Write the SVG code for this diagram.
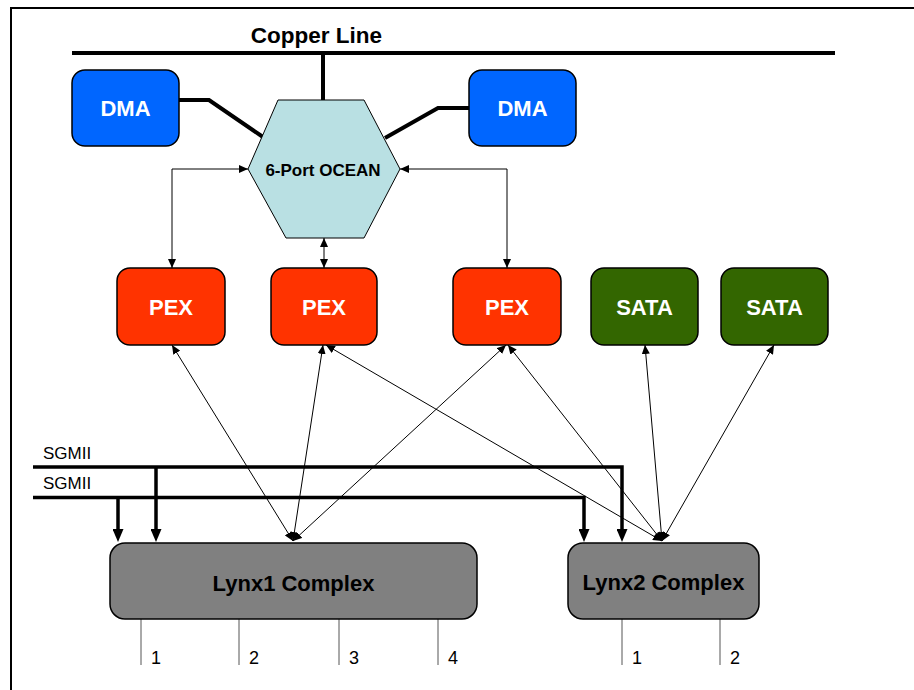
<svg xmlns="http://www.w3.org/2000/svg" width="914" height="690" viewBox="0 0 914 690">
<defs>
<style>
.box{stroke:#000;stroke-width:1.5}
.dma{fill:#0066FF}
.pex{fill:#FF3300}
.sata{fill:#336600}
.lynx{fill:#808080}
.hex{fill:#B9E0E3;stroke:#000;stroke-width:1}
.wt{font-family:"Liberation Sans",Arial,sans-serif;font-weight:bold;font-size:22px;fill:#fff;text-anchor:middle}
.bt{font-family:"Liberation Sans",Arial,sans-serif;font-weight:bold;fill:#000;text-anchor:middle}
.nt{font-family:"Liberation Sans",Arial,sans-serif;fill:#000}
.thick{fill:none;stroke:#000;stroke-width:4}
.sg{fill:none;stroke:#000;stroke-width:3.5}
.thin{fill:none;stroke:#000;stroke-width:1;marker-start:url(#ah);marker-end:url(#ah)}
.port{fill:none;stroke:#555;stroke-width:1}
</style>
<marker id="ah" markerUnits="userSpaceOnUse" markerWidth="10" markerHeight="8" viewBox="0 0 10 8" refX="9" refY="4" orient="auto-start-reverse">
<path d="M0,0 L9,4 L0,8 z" fill="#000"/>
</marker>
<marker id="bh" markerUnits="userSpaceOnUse" markerWidth="14" markerHeight="11" viewBox="0 0 14 11" refX="1" refY="5.5" orient="auto">
<path d="M0,0 L13,5.5 L0,11 z" fill="#000"/>
</marker>
</defs>
<rect width="914" height="690" fill="#fff"/>
<path d="M11,690 V8 H914" fill="none" stroke="#000" stroke-width="2"/>

<g id="copper-line">
<line x1="72" y1="53" x2="835" y2="53" stroke="#000" stroke-width="4"/>
<text class="bt" x="316.5" y="43" font-size="22.5">Copper Line</text>
</g>

<g id="connectors">
<path class="thick" d="M323,53 V100"/>
<path class="thick" d="M179,100 H209 L263,137"/>
<path class="thick" d="M469,108 H438 L385,138"/>
<path class="thin" d="M248,169 H172 V268"/>
<path class="thin" d="M400,169 H507 V268"/>
<path class="thin" d="M324,238 V268"/>
<path class="thin" d="M293,541 L172,345"/>
<path class="thin" d="M293,541 L323,345"/>
<path class="thin" d="M293,541 L506,345"/>
<path class="thin" d="M662,541 L326,345"/>
<path class="thin" d="M662,541 L508,345"/>
<path class="thin" d="M662,541 L645,345"/>
<path class="thin" d="M662,541 L774,345"/>
<path class="sg" d="M33,467 H622 V530" marker-end="url(#bh)"/>
<path class="sg" d="M156,467 V530" marker-end="url(#bh)"/>
<path class="sg" d="M33,497.5 H584 V530" marker-end="url(#bh)"/>
<path class="sg" d="M118,497.5 V530" marker-end="url(#bh)"/>
<path class="port" d="M141,619 V665 M239,619 V665 M339,619 V665 M438,619 V665 M622,619 V665 M720,619 V665"/>
</g>

<g id="sgmii-labels">
<text class="nt" x="43" y="459" font-size="17">SGMII</text>
<text class="nt" x="43" y="489" font-size="17">SGMII</text>
</g>

<g id="dma1">
<rect class="box dma" x="72" y="70" width="107" height="76" rx="13"/>
<text class="wt" x="125.5" y="116">DMA</text>
</g>
<g id="dma2">
<rect class="box dma" x="469" y="70" width="107" height="76" rx="13"/>
<text class="wt" x="522.5" y="116">DMA</text>
</g>

<g id="ocean">
<polygon class="hex" points="278,100 364,100 400,169 364,238 286,238 248,169"/>
<text class="bt" x="323" y="176" font-size="17">6-Port OCEAN</text>
</g>

<g id="pex1">
<rect class="box pex" x="117" y="268" width="108" height="77" rx="13"/>
<text class="wt" x="171" y="315">PEX</text>
</g>
<g id="pex2">
<rect class="box pex" x="271" y="268" width="106" height="77" rx="13"/>
<text class="wt" x="324" y="315">PEX</text>
</g>
<g id="pex3">
<rect class="box pex" x="453" y="268" width="108" height="77" rx="13"/>
<text class="wt" x="507" y="315">PEX</text>
</g>
<g id="sata1">
<rect class="box sata" x="591" y="268" width="107" height="77" rx="13"/>
<text class="wt" x="644.5" y="315">SATA</text>
</g>
<g id="sata2">
<rect class="box sata" x="721" y="268" width="107" height="77" rx="13"/>
<text class="wt" x="774.5" y="315">SATA</text>
</g>

<g id="lynx1">
<rect class="box lynx" x="110" y="543" width="367" height="76" rx="15" stroke-width="1"/>
<text class="bt" x="293.5" y="591" font-size="22">Lynx1 Complex</text>
<text class="nt" x="151" y="664" font-size="18">1</text>
<text class="nt" x="249" y="664" font-size="18">2</text>
<text class="nt" x="349" y="664" font-size="18">3</text>
<text class="nt" x="448" y="664" font-size="18">4</text>
</g>
<g id="lynx2">
<rect class="box lynx" x="568" y="543" width="191" height="76" rx="15" stroke-width="1"/>
<text class="bt" x="663.5" y="590" font-size="22">Lynx2 Complex</text>
<text class="nt" x="632" y="664" font-size="18">1</text>
<text class="nt" x="730" y="664" font-size="18">2</text>
</g>
</svg>
